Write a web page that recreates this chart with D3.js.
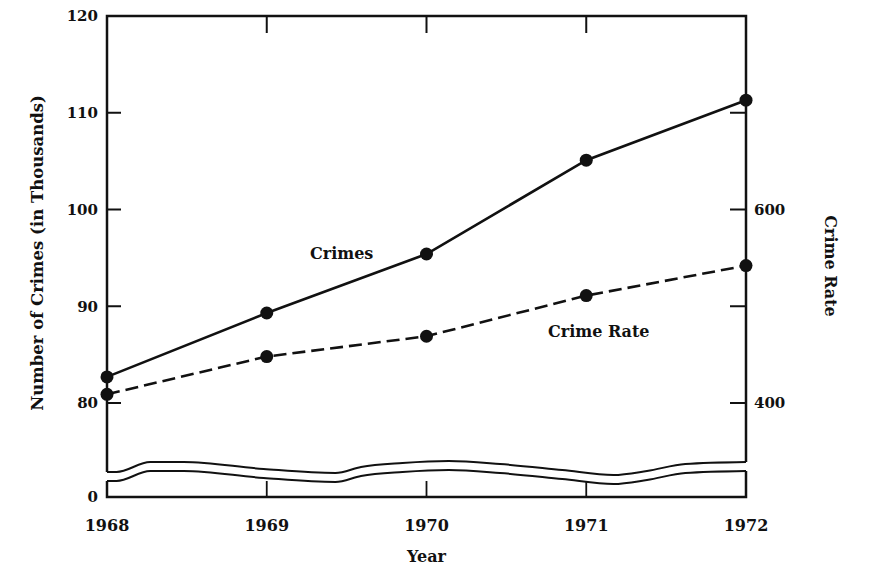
<!DOCTYPE html>
<html>
<head>
<meta charset="utf-8">
<script src="https://cdn.jsdelivr.net/npm/d3@7"></script>
<style>
  html, body { margin: 0; padding: 0; background: #fff; }
  svg { display: block; }
  text { font-family: "DejaVu Serif", serif; fill: #111; }
</style>
</head>
<body>
<svg id="chart" width="871" height="566"></svg>
<script>
// data
const years = [1968, 1969, 1970, 1971, 1972];
const crimes = [82.7, 89.3, 95.4, 105.1, 111.3];      // thousands (left axis)
const crimeRate = [409, 448, 469, 511, 542];          // right axis

const leftTicks = [80, 90, 100, 110, 120];
const rightTicks = [400, 500, 600, 700];
const rightLabels = [400, 600];
const innerYears = [1969, 1970, 1971];

// wavy axis break: [year, pixel offset above the zero line]
const breakWave = [
  [1968.00, 25], [1968.06, 25], [1968.27, 35], [1968.48, 35],
  [1968.98, 28], [1969.43, 24], [1969.59, 30], [1969.85, 34],
  [1970.14, 36], [1970.46, 33], [1970.85, 27], [1971.17, 22],
  [1971.38, 26], [1971.62, 33], [1972.00, 35]
];
const breakGap = 9;

const colors = { ink: "#111" };

const svg = d3.select("#chart");
const width = 871, height = 566;
const margin = { top: 16, right: 125, bottom: 69, left: 107 };
const x0 = margin.left, x1 = width - margin.right;
const yTop = margin.top, yZero = height - margin.bottom;

svg.append("rect").attr("width", width).attr("height", height).attr("fill", "#fff");

// scales
const x = d3.scaleLinear().domain([1968, 1972]).range([x0, x1]);
const y = d3.scaleLinear().domain([80, 120]).range([403, yTop]);
const yRate = d3.scaleLinear().domain([400, 800]).range([403, yTop]);

const upperY = d => yZero - d[1];
const lowerY = d => yZero - d[1] + breakGap;
const first = breakWave[0], last = breakWave[breakWave.length - 1];

const g = svg.append("g");

// frame: top, upper sides down to break, lower box
g.append("path")
  .attr("d", `M${x0},${upperY(first)} L${x0},${yTop} L${x1},${yTop} L${x1},${upperY(last)}`)
  .attr("fill", "none").attr("stroke", colors.ink).attr("stroke-width", 2.5);
g.append("path")
  .attr("d", `M${x0},${lowerY(first)} L${x0},${yZero} L${x1},${yZero} L${x1},${lowerY(last)}`)
  .attr("fill", "none").attr("stroke", colors.ink).attr("stroke-width", 2.5);

// break curves
const wave = acc => d3.line().x(d => x(d[0])).y(acc).curve(d3.curveMonotoneX);
g.append("path").attr("d", wave(upperY)(breakWave))
  .attr("fill", "none").attr("stroke", colors.ink).attr("stroke-width", 2);
g.append("path").attr("d", wave(lowerY)(breakWave))
  .attr("fill", "none").attr("stroke", colors.ink).attr("stroke-width", 2);

// left ticks and labels
g.selectAll(".lt").data(leftTicks.filter(d => d < 120)).enter().append("line")
  .attr("x1", x0).attr("x2", x0 + 14)
  .attr("y1", d => y(d)).attr("y2", d => y(d))
  .attr("stroke", colors.ink).attr("stroke-width", 2);
g.selectAll(".ll").data(leftTicks).enter().append("text")
  .attr("x", x0 - 9).attr("y", d => y(d)).attr("dy", "0.36em")
  .attr("text-anchor", "end").attr("font-size", "15px").attr("font-weight", "bold")
  .text(d => d);
g.append("text")
  .attr("x", x0 - 9).attr("y", yZero).attr("dy", "0.36em")
  .attr("text-anchor", "end").attr("font-size", "15px").attr("font-weight", "bold")
  .text("0");

// right ticks and labels
g.selectAll(".rt").data(rightTicks).enter().append("line")
  .attr("x1", x1).attr("x2", x1 - 16)
  .attr("y1", d => yRate(d)).attr("y2", d => yRate(d))
  .attr("stroke", colors.ink).attr("stroke-width", 2);
g.selectAll(".rl").data(rightLabels).enter().append("text")
  .attr("x", x1 + 8).attr("y", d => yRate(d)).attr("dy", "0.36em")
  .attr("font-size", "15px").attr("font-weight", "bold")
  .text(d => d);

// top and bottom year ticks
g.selectAll(".tt").data(innerYears).enter().append("line")
  .attr("x1", d => x(d)).attr("x2", d => x(d))
  .attr("y1", yTop).attr("y2", yTop + 17)
  .attr("stroke", colors.ink).attr("stroke-width", 2);
g.selectAll(".bt").data(innerYears).enter().append("line")
  .attr("x1", d => x(d)).attr("x2", d => x(d))
  .attr("y1", yZero).attr("y2", yZero - 16)
  .attr("stroke", colors.ink).attr("stroke-width", 1.8);
g.selectAll(".yl").data(years).enter().append("text")
  .attr("x", d => x(d)).attr("y", yZero + 34)
  .attr("text-anchor", "middle").attr("font-size", "16px").attr("font-weight", "bold")
  .text(d => d);

// crimes (solid)
const crimePts = years.map((yr, i) => [x(yr), y(crimes[i])]);
g.append("path").attr("d", d3.line()(crimePts))
  .attr("fill", "none").attr("stroke", colors.ink).attr("stroke-width", 2.6);
g.selectAll(".cp").data(crimePts).enter().append("circle")
  .attr("cx", d => d[0]).attr("cy", d => d[1]).attr("r", 6.5).attr("fill", colors.ink);

// crime rate (dashed)
const ratePts = years.map((yr, i) => [x(yr), yRate(crimeRate[i])]);
g.append("path").attr("d", d3.line()(ratePts))
  .attr("fill", "none").attr("stroke", colors.ink).attr("stroke-width", 2.6)
  .attr("stroke-dasharray", "13,6");
g.selectAll(".rp").data(ratePts).enter().append("circle")
  .attr("cx", d => d[0]).attr("cy", d => d[1]).attr("r", 6.5).attr("fill", colors.ink);

// series labels
g.append("text").attr("x", 310).attr("y", 259)
  .attr("font-size", "16px").attr("font-weight", "bold").text("Crimes");
g.append("text").attr("x", 548).attr("y", 337)
  .attr("font-size", "16px").attr("font-weight", "bold").text("Crime Rate");

// axis titles
g.append("text")
  .attr("transform", `translate(43, 253) rotate(-90)`)
  .attr("text-anchor", "middle").attr("font-size", "16.5px").attr("font-weight", "bold")
  .text("Number of Crimes (in Thousands)");
g.append("text")
  .attr("transform", `translate(825, 266) rotate(90)`)
  .attr("text-anchor", "middle").attr("font-size", "16px").attr("font-weight", "bold")
  .text("Crime Rate");
g.append("text")
  .attr("x", x(1970)).attr("y", yZero + 65)
  .attr("text-anchor", "middle").attr("font-size", "16px").attr("font-weight", "bold")
  .text("Year");
</script>
</body>
</html>
